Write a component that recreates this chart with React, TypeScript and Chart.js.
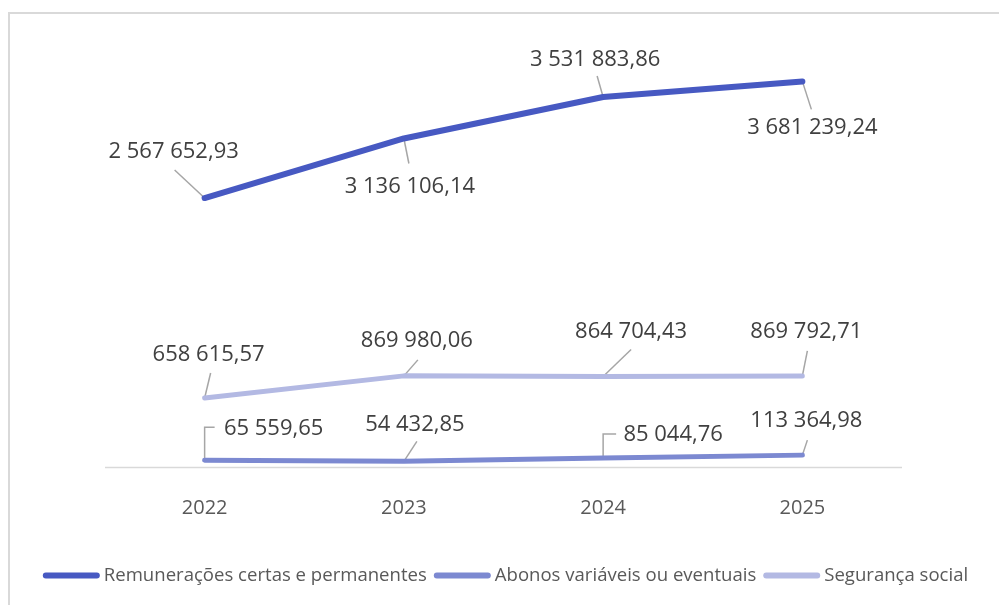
import React, { useEffect, useRef } from "react";
import { Chart, registerables } from "chart.js";

Chart.register(...registerables);

const categories = ["2022", "2023", "2024", "2025"];
const remuneracoes = [2567652.93, 3136106.14, 3531883.86, 3681239.24];
const abonos = [65559.65, 54432.85, 85044.76, 113364.98];
const seguranca = [658615.57, 869980.06, 864704.43, 869792.71];
const seriesNames = [
  "Remunerações certas e permanentes",
  "Abonos variáveis ou eventuais",
  "Segurança social",
];
const yMin = 0;
const yMax = 4000000;

// label placement relative to each point: [dx, dy, leaderDx, leaderDy, elbow]
const remLabelPos = [
  [-31, -46, -30, -28, 0],
  [6, 48, 5, 25, 0],
  [-8, -37, -6, -21, 0],
  [10, 46, 9, 28, 0],
];
const abonosLabelPos = [
  [69, -31, 10, -33, 1],
  [11, -37, 13, -20, 0],
  [70, -23, 13, -24, 1],
  [4, -34, 5, -15, 0],
];
const segLabelPos = [
  [4, -43, 6, -25, 0],
  [13, -35, 14, -16, 0],
  [28, -45, 28, -27, 0],
  [4, -44, 5, -25, 0],
];

const colors = ["#4759C2", "#7C89D1", "#B3B9E3"];
const lineWidths = [6, 5, 5];

function fmt(v: number): string {
  const [i, d] = v.toFixed(2).split(".");
  const int = i.replace(/\B(?=(\d{3})+(?!\d))/g, " ");
  return int + "," + d;
}

const LABEL_FONT = "22px 'Open Sans', 'Noto Sans', sans-serif";
const LEGEND_FONT = "18px 'Open Sans', 'Noto Sans', sans-serif";

const customPlugin = {
  id: "custom",
  beforeDraw(chart: any) {
    const ctx = chart.ctx;
    ctx.save();
    ctx.fillStyle = "#ffffff";
    ctx.fillRect(0, 0, chart.width, chart.height);
    ctx.strokeStyle = "#d9d9d9";
    ctx.lineWidth = 2;
    ctx.strokeRect(9, 13, 1200, 1000);
    const a = chart.chartArea;
    ctx.strokeStyle = "#d9d9d9";
    ctx.lineWidth = 1.5;
    ctx.beginPath();
    ctx.moveTo(a.left, a.bottom + 0.5);
    ctx.lineTo(a.right, a.bottom + 0.5);
    ctx.stroke();
    const xs = chart.scales.x;
    ctx.fillStyle = "#595959";
    ctx.font = "20px 'Open Sans', 'Noto Sans', sans-serif";
    ctx.textAlign = "center";
    ctx.textBaseline = "middle";
    categories.forEach((c, i) => {
      ctx.fillText(c, xs.getPixelForValue(i), a.bottom + 41);
    });
    ctx.restore();
  },
  beforeDatasetsDraw(chart: any) {
    const ctx = chart.ctx;
    const positions = [remLabelPos, abonosLabelPos, segLabelPos];
    ctx.save();
    ctx.strokeStyle = "#a6a6a6";
    ctx.lineWidth = 1.5;
    chart.data.datasets.forEach((ds: any, di: number) => {
      const meta = chart.getDatasetMeta(di);
      meta.data.forEach((pt: any, i: number) => {
        const p = positions[di][i];
        ctx.beginPath();
        ctx.moveTo(pt.x, pt.y);
        if (p[4]) {
          ctx.lineTo(pt.x, pt.y + p[3]);
          ctx.lineTo(pt.x + p[2], pt.y + p[3]);
        } else {
          ctx.lineTo(pt.x + p[2], pt.y + p[3]);
        }
        ctx.stroke();
      });
    });
    ctx.restore();
  },
  afterDatasetsDraw(chart: any) {
    const ctx = chart.ctx;
    const positions = [remLabelPos, abonosLabelPos, segLabelPos];
    ctx.save();
    ctx.fillStyle = "#404040";
    ctx.font = LABEL_FONT;
    ctx.textAlign = "center";
    ctx.textBaseline = "middle";
    chart.data.datasets.forEach((ds: any, di: number) => {
      const meta = chart.getDatasetMeta(di);
      meta.data.forEach((pt: any, i: number) => {
        const p = positions[di][i];
        ctx.fillText(fmt(ds.data[i]), pt.x + p[0], pt.y + p[1]);
      });
    });
    ctx.restore();
  },
  afterDraw(chart: any) {
    const ctx = chart.ctx;
    ctx.save();
    ctx.font = LEGEND_FONT;
    const targetFirst = 323;
    const sx = targetFirst / ctx.measureText(seriesNames[0]).width;
    const markerW = 57;
    const gapMT = 4;
    const gapTM = 7;
    const widths = seriesNames.map((n) => ctx.measureText(n).width * sx);
    const total =
      widths.reduce((s, w) => s + w, 0) + 3 * (markerW + gapMT) + 2 * gapTM;
    let x = 505.5 - total / 2;
    const y = 575.5;
    seriesNames.forEach((n, i) => {
      ctx.strokeStyle = colors[i];
      ctx.lineWidth = 6;
      ctx.lineCap = "round";
      ctx.beginPath();
      ctx.moveTo(x + 3, y);
      ctx.lineTo(x + markerW - 3, y);
      ctx.stroke();
      x += markerW + gapMT;
      ctx.fillStyle = "#595959";
      ctx.textAlign = "left";
      ctx.textBaseline = "middle";
      ctx.save();
      ctx.translate(x, y);
      ctx.scale(sx, 1);
      ctx.fillText(n, 0, 0);
      ctx.restore();
      x += widths[i] + gapTM;
    });
    ctx.restore();
  },
};

export default function App() {
  const ref = useRef<HTMLCanvasElement | null>(null);
  useEffect(() => {
    if (!ref.current) return;
    const data = [remuneracoes, abonos, seguranca];
    const chart = new Chart(ref.current, {
      type: "line",
      data: {
        labels: categories,
        datasets: data.map((d, i) => ({
          label: seriesNames[i],
          data: d,
          borderColor: colors[i],
          backgroundColor: colors[i],
          borderWidth: lineWidths[i],
          pointRadius: 0,
          pointHoverRadius: 0,
          tension: 0,
          borderCapStyle: "round" as const,
          borderJoinStyle: "round" as const,
          fill: false,
        })),
      },
      options: {
        animation: false,
        responsive: false,
        layout: { padding: { left: 105, right: 97, top: 48, bottom: 138 } },
        plugins: {
          legend: { display: false },
          tooltip: { enabled: false },
        },
        scales: {
          x: { display: false, offset: true },
          y: { display: false, min: yMin, max: yMax },
        },
      },
      plugins: [customPlugin],
    });
    return () => chart.destroy();
  }, []);
  return (
    <div style={{ position: "absolute", left: 0, top: 0, width: 999, height: 605 }}>
      <canvas ref={ref} width={999} height={605} />
    </div>
  );
}
